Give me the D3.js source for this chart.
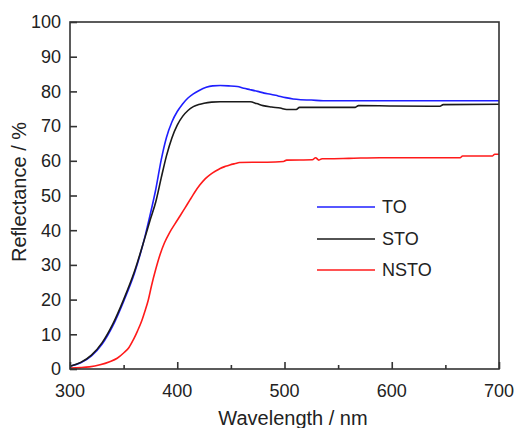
<!DOCTYPE html>
<html>
<head>
<meta charset="utf-8">
<script src="https://cdn.jsdelivr.net/npm/d3@7"></script>
<style>
  html, body { margin: 0; padding: 0; background: #fff; }
  svg { display: block; font-family: "Liberation Sans", Arial, sans-serif; }
</style>
</head>
<body>
<svg id="chart" width="516" height="428"></svg>
<script>
// Diffuse reflectance spectra
const toWl   = [300, 310, 320, 330, 340, 350, 360, 370, 375, 380, 385, 390, 395, 400, 405, 410, 415, 420, 427, 433, 440, 448, 456, 462, 468, 475, 481, 487, 494, 501, 508, 515, 525, 536, 560, 600, 650, 700];
const toVal  = [0.8, 1.8, 3.8, 7.2, 12.5, 19.5, 27.5, 38.3, 44.8, 51.8, 60.2, 66.8, 71.2, 74.2, 76.4, 78.1, 79.3, 80.2, 81.2, 81.6, 81.7, 81.6, 81.4, 80.9, 80.5, 80.0, 79.5, 79.2, 78.7, 78.2, 77.8, 77.6, 77.5, 77.3, 77.3, 77.3, 77.3, 77.3];
const stoWl  = [300, 310, 320, 330, 340, 350, 360, 370, 375, 380, 385, 390, 395, 400, 405, 410, 415, 420, 425, 432, 440, 450, 468, 474, 480, 488, 496, 502, 511, 514, 540, 566, 569, 600, 645, 648, 700];
const stoVal = [0.8, 1.9, 4.0, 7.6, 13.0, 20.0, 28.0, 38.0, 43.2, 48.2, 55.0, 61.5, 66.6, 70.3, 72.8, 74.5, 75.6, 76.2, 76.6, 76.9, 77.0, 77.0, 77.0, 76.5, 75.9, 75.5, 75.2, 74.8, 74.8, 75.4, 75.4, 75.4, 75.9, 75.8, 75.7, 76.2, 76.3];
const nstoWl  = [300, 310, 318, 328, 337, 344, 350, 355, 359, 363, 367, 370, 373, 376, 380, 384, 388, 393, 398, 403, 407, 412, 416, 421, 426, 431, 436, 440, 445, 449, 454, 458, 470, 484, 499, 502, 526, 529, 532, 535, 540, 560, 589, 620, 664, 666, 694, 696, 700];
const nstoVal = [0.3, 0.4, 0.6, 1.2, 2.1, 3.1, 4.6, 6.2, 8.4, 11, 14, 16.8, 19.9, 24, 28.8, 33.0, 36.3, 39.4, 41.9, 44.3, 46.3, 48.8, 50.8, 53.0, 54.8, 56.1, 57.1, 57.8, 58.4, 58.8, 59.2, 59.5, 59.6, 59.6, 59.8, 60.2, 60.3, 60.9, 60.2, 60.6, 60.6, 60.7, 60.9, 60.9, 60.9, 61.4, 61.4, 61.9, 61.9];

const seriesNames  = ["TO", "STO", "NSTO"];
const seriesColors = ["#1f1fff", "#1a1a1a", "#ff1a1a"];
const seriesData = [
  toWl.map((w, i) => [w, toVal[i]]),
  stoWl.map((w, i) => [w, stoVal[i]]),
  nstoWl.map((w, i) => [w, nstoVal[i]])
];

const xMajor = [300, 400, 500, 600, 700];
const xMinor = [350, 450, 550, 650];
const yTicks = [0, 10, 20, 30, 40, 50, 60, 70, 80, 90, 100];

const svg = d3.select("#chart");
const plotLeft = 70, plotRight = 499, plotTop = 22, plotBottom = 369;

const x = d3.scaleLinear().domain([300, 700]).range([plotLeft, plotRight]);
const y = d3.scaleLinear().domain([0, 100]).range([plotBottom, plotTop]);

const axisColor = "#333";
const textColor = "#222";

// Curves
const line = d3.line().x(d => x(d[0])).y(d => y(d[1])).curve(d3.curveMonotoneX);
seriesData.forEach((s, i) => {
  svg.append("path")
    .datum(s)
    .attr("fill", "none")
    .attr("stroke", seriesColors[i])
    .attr("stroke-width", 1.6)
    .attr("stroke-linejoin", "round")
    .attr("d", line);
});

// Frame
svg.append("rect")
  .attr("x", plotLeft).attr("y", plotTop)
  .attr("width", plotRight - plotLeft).attr("height", plotBottom - plotTop)
  .attr("fill", "none").attr("stroke", axisColor).attr("stroke-width", 1.6);

// Bottom axis, ticks pointing inward
const xAxis = svg.append("g").attr("transform", `translate(0,${plotBottom})`)
  .call(d3.axisTop(x).tickValues(xMajor).tickSize(7).tickFormat(""));
xAxis.select(".domain").remove();
xAxis.selectAll("line").attr("stroke", axisColor).attr("stroke-width", 1.6);

const xMinorAxis = svg.append("g").attr("transform", `translate(0,${plotBottom})`)
  .call(d3.axisTop(x).tickValues(xMinor).tickSize(4).tickFormat(""));
xMinorAxis.select(".domain").remove();
xMinorAxis.selectAll("line").attr("stroke", axisColor).attr("stroke-width", 1.6);

svg.append("g").selectAll("text").data(xMajor).join("text")
  .attr("x", d => x(d)).attr("y", 397)
  .attr("text-anchor", "middle")
  .attr("font-size", 18).attr("fill", textColor)
  .text(d => d);

// Left axis, ticks pointing inward
const yAxis = svg.append("g").attr("transform", `translate(${plotLeft},0)`)
  .call(d3.axisRight(y).tickValues(yTicks).tickSize(7).tickFormat(""));
yAxis.select(".domain").remove();
yAxis.selectAll("line").attr("stroke", axisColor).attr("stroke-width", 1.6);

svg.append("g").selectAll("text").data(yTicks).join("text")
  .attr("x", 61).attr("y", d => y(d))
  .attr("dy", "0.35em")
  .attr("text-anchor", "end")
  .attr("font-size", 18).attr("fill", textColor)
  .text(d => d);

// Axis titles
svg.append("text")
  .attr("x", 293).attr("y", 425)
  .attr("text-anchor", "middle")
  .attr("font-size", 20).attr("fill", textColor)
  .text("Wavelength / nm");

svg.append("text")
  .attr("transform", `translate(26,192) rotate(-90)`)
  .attr("text-anchor", "middle")
  .attr("font-size", 20).attr("fill", textColor)
  .text("Reflectance / %");

// Legend
const legendY = [207, 239, 270];
const legend = svg.append("g");
seriesNames.forEach((name, i) => {
  legend.append("line")
    .attr("x1", 317).attr("x2", 375)
    .attr("y1", legendY[i]).attr("y2", legendY[i])
    .attr("stroke", seriesColors[i]).attr("stroke-width", 1.6);
  legend.append("text")
    .attr("x", 382).attr("y", legendY[i])
    .attr("dy", "0.35em")
    .attr("font-size", 18).attr("fill", textColor)
    .text(name);
});
</script>
</body>
</html>
